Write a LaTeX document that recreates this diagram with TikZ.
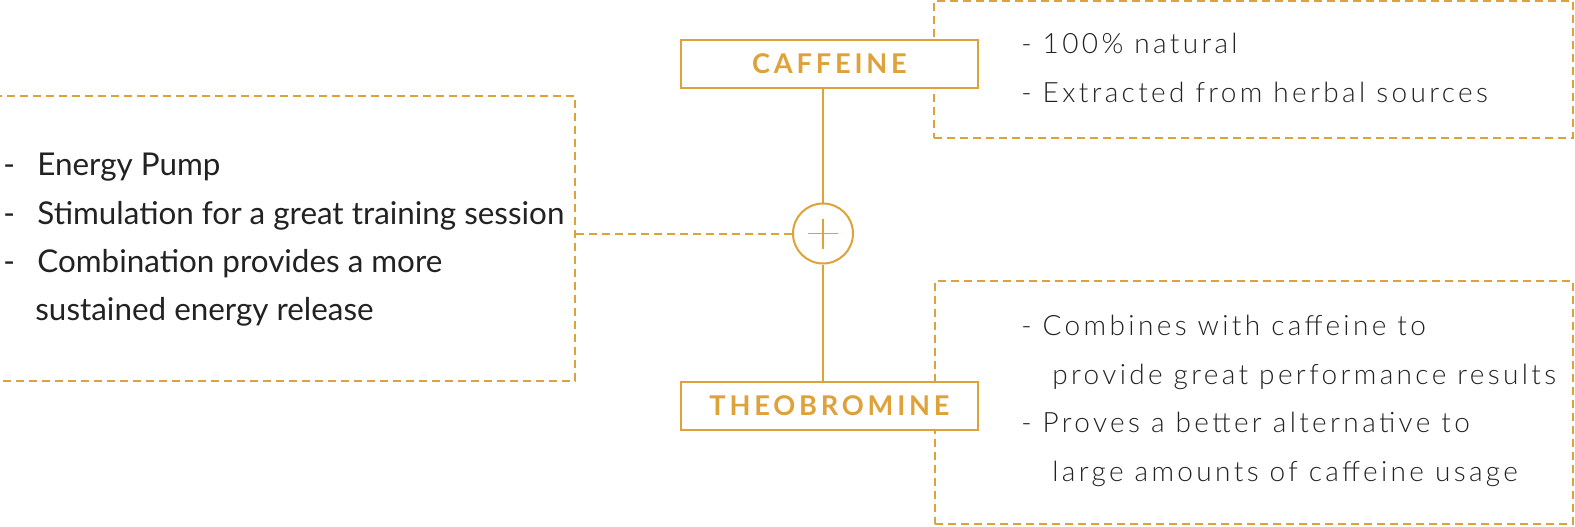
\documentclass[tikz,border=0pt]{standalone}
\usepackage{fontspec}
\setmainfont{Lato}
\newfontfamily\lightfont{Lato Light}[LetterSpace=12]
\newfontfamily\capsfont{Lato}[LetterSpace=14]
\usetikzlibrary{positioning}
\definecolor{gold}{RGB}{223,161,58}
\definecolor{ink}{RGB}{34,34,34}
\tikzstyle{title} = [rectangle, draw=gold, fill=white, line width=1pt, minimum width=148.5pt, minimum height=24pt, inner sep=0pt, text=gold, font=\capsfont\bfseries\fontsize{13.6}{15}\selectfont]
\tikzstyle{dbox} = [rectangle, draw=gold, line width=1pt, dash pattern=on 4pt off 2.5pt, inner sep=0pt]
\tikzstyle{dline} = [draw=gold, line width=1pt, dash pattern=on 4pt off 2.5pt]
\tikzstyle{stem} = [draw=gold, line width=0.6pt]
\tikzstyle{item} = [inner sep=0pt, anchor=base west, text=ink, font=\fontsize{15.7}{18}\selectfont]
\tikzstyle{litem} = [inner sep=0pt, anchor=base west, text=ink, font=\lightfont\fontsize{14}{16}\selectfont]

\begin{document}
\begin{tikzpicture}[x=0.5pt, y=-0.5pt]
        \useasboundingbox (0,0) rectangle (1575,526);
        % boxes
        \node[dbox, minimum width=292.5pt, minimum height=142.5pt] (lbox) at (282.5,238.5) {};
        \node[dbox, minimum width=319.5pt, minimum height=68.5pt] (tbox) at (1253.5,69.5) {};
        \node[dbox, minimum width=319pt, minimum height=121.5pt] (bbox) at (1254,402.5) {};
        \node[title] (caffeine) at (829.5,64) {CAFFEINE};
        \node[title] (theo) at (829.5,406) {THEOBROMINE};
        \node[circle, draw=gold, line width=1pt, minimum size=30pt, inner sep=0pt] (plus) at (823,233.5) {};
        \draw[stem] ([xshift=-7.5pt]plus.center) -- ([xshift=7.5pt]plus.center);
        \draw[stem] ([yshift=-7.5pt]plus.center) -- ([yshift=7.5pt]plus.center);

        % connectors
        \draw[stem] (caffeine.south -| plus) -- (plus.north);
        \draw[stem] (plus.south) -- (theo.north -| plus);
        \draw[dline] (plus.west -| lbox.east) -- (plus.west);

        % left list
        \foreach \n/\y/\t in {a/175/Energy Pump, b/224/Stimulation for a great training session, c/272/Combination provides a more}
        {\node[item] (d\n) at (3,\y) {-};
         \node[item] (l\n) at (37,\y) {\t};}
        \node[item] (ld) at (35,320) {sustained energy release};

        % right lists
        \node[litem] (t1) at (1021,53) {- 100\% natural};
        \node[litem] (t2) at (1021,102) {- Extracted from herbal sources};
        \node[litem] (b1) at (1021,335) {- Combines with caffeine to};
        \node[litem] (b2) at (1052,384) {provide great performance results};
        \node[litem] (b3) at (1021,432) {- Proves a better alternative to};
        \node[litem] (b4) at (1052,481) {large amounts of caffeine usage};
\end{tikzpicture}
\end{document}
